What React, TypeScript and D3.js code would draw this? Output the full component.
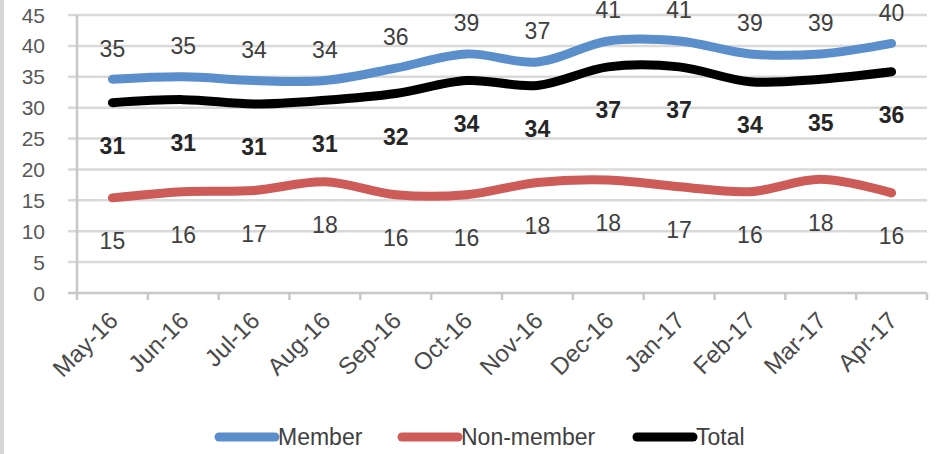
import React, { useEffect, useRef } from 'react';
import * as d3 from 'd3';

const months = ['May-16', 'Jun-16', 'Jul-16', 'Aug-16', 'Sep-16', 'Oct-16', 'Nov-16', 'Dec-16', 'Jan-17', 'Feb-17', 'Mar-17', 'Apr-17'];
const member = [34.6, 35.0, 34.4, 34.4, 36.4, 38.7, 37.4, 40.8, 40.8, 38.7, 38.7, 40.4];
const nonMember = [15.4, 16.4, 16.6, 18.0, 15.9, 15.9, 17.9, 18.3, 17.2, 16.4, 18.4, 16.2];
const total = [30.8, 31.3, 30.6, 31.2, 32.3, 34.4, 33.6, 36.6, 36.6, 34.2, 34.6, 35.8];
const yTicks = [0, 5, 10, 15, 20, 25, 30, 35, 40, 45];

const FONT = '"Liberation Sans", Arial, sans-serif';

const App: React.FC = () => {
  const svgRef = useRef<SVGSVGElement>(null);

  useEffect(() => {
    if (!svgRef.current) return;
    const svg = d3.select(svgRef.current);
    svg.selectAll('*').remove();

    const plot = { left: 77, right: 927, top: 15, bottom: 293 };

    const x = d3.scaleBand().domain(months).range([plot.left, plot.right]).padding(0);
    const cx = (m: string) => (x(m) || 0) + x.bandwidth() / 2;
    const y = d3.scaleLinear().domain([0, 45]).range([plot.bottom, plot.top]);

    // left border strip
    svg.append('rect').attr('x', 0).attr('y', 0).attr('width', 4).attr('height', 454).attr('fill', '#d6d6d6');

    // gridlines
    svg.append('g')
      .selectAll('line')
      .data(yTicks.filter(t => t > 0))
      .join('line')
      .attr('x1', plot.left - 9)
      .attr('x2', plot.right)
      .attr('y1', d => y(d))
      .attr('y2', d => y(d))
      .attr('stroke', '#d9d9d9')
      .attr('stroke-width', 2.5);

    // y axis line
    svg.append('line')
      .attr('x1', plot.left).attr('x2', plot.left)
      .attr('y1', y(45)).attr('y2', y(0))
      .attr('stroke', '#c8c8c8').attr('stroke-width', 2.5);

    // x axis line + ticks
    svg.append('line')
      .attr('x1', plot.left - 9).attr('x2', plot.right)
      .attr('y1', y(0)).attr('y2', y(0))
      .attr('stroke', '#c8c8c8').attr('stroke-width', 2.5);
    const bounds = months.map(m => x(m) || 0).concat([plot.right]);
    svg.append('g')
      .selectAll('line')
      .data(bounds)
      .join('line')
      .attr('x1', d => d).attr('x2', d => d)
      .attr('y1', y(0)).attr('y2', y(0) + 7)
      .attr('stroke', '#c8c8c8').attr('stroke-width', 2.5);

    // y tick labels
    svg.append('g')
      .selectAll('text')
      .data(yTicks)
      .join('text')
      .attr('x', 45)
      .attr('y', d => y(d))
      .attr('dy', '0.36em')
      .attr('text-anchor', 'end')
      .attr('font-family', FONT)
      .attr('font-size', 21)
      .attr('fill', '#595959')
      .text(d => d);

    // x tick labels (rotated)
    svg.append('g')
      .selectAll('text')
      .data(months)
      .join('text')
      .attr('transform', d => `translate(${cx(d) + 7},${y(0) + 29}) rotate(-45)`)
      .attr('text-anchor', 'end')
      .attr('font-family', FONT)
      .attr('font-size', 24)
      .attr('fill', '#4a4a4a')
      .text(d => d);

    const line = d3.line<number>()
      .x((_, i) => cx(months[i]))
      .y(d => y(d))
      .curve(d3.curveCatmullRom.alpha(0.5));

    const series = [
      { name: 'Member', values: member, color: '#5b8fcb', offset: -31, weight: 'normal', labelColor: '#404040' },
      { name: 'Non-member', values: nonMember, color: '#cd5c58', offset: 43, weight: 'normal', labelColor: '#404040' },
      { name: 'Total', values: total, color: '#000000', offset: 43, weight: 'bold', labelColor: '#262626' },
    ];

    series.forEach(s => {
      svg.append('path')
        .attr('d', line(s.values) || '')
        .attr('fill', 'none')
        .attr('stroke', s.color)
        .attr('stroke-width', 9)
        .attr('stroke-linecap', 'round')
        .attr('stroke-linejoin', 'round');
    });

    series.forEach(s => {
      svg.append('g')
        .selectAll('text')
        .data(s.values)
        .join('text')
        .attr('x', (_, i) => cx(months[i]))
        .attr('y', d => y(d) + s.offset)
        .attr('dy', '0.36em')
        .attr('text-anchor', 'middle')
        .attr('font-family', FONT)
        .attr('font-size', 23)
        .attr('font-weight', s.weight)
        .attr('fill', s.labelColor)
        .text(d => d3.format('.0f')(d));
    });

    // legend
    const legendX = [219, 402, 637];
    const lg = svg.append('g');
    series.forEach((s, i) => {
      const gx = legendX[i];
      lg.append('line')
        .attr('x1', gx).attr('x2', gx + 56)
        .attr('y1', 437).attr('y2', 437)
        .attr('stroke', s.color)
        .attr('stroke-width', 9)
        .attr('stroke-linecap', 'round');
      lg.append('text')
        .attr('x', gx + 59)
        .attr('y', 437)
        .attr('dy', '0.36em')
        .attr('font-family', FONT)
        .attr('font-size', 23)
        .attr('fill', '#404040')
        .text(s.name);
    });
  }, []);

  return (
    <svg
      ref={svgRef}
      width={939}
      height={454}
      style={{ position: 'absolute', left: 0, top: 0, background: '#ffffff' }}
    />
  );
};

export default App;
